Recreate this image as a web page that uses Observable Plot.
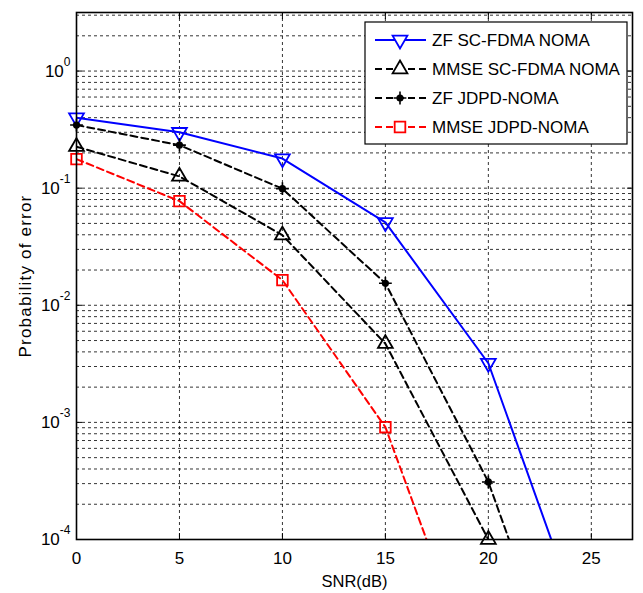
<!DOCTYPE html>
<html>
<head>
<meta charset="utf-8">
<script src="https://cdn.jsdelivr.net/npm/d3@7"></script>
<script src="https://cdn.jsdelivr.net/npm/@observablehq/plot@0.6"></script>
<style>
  html, body { margin: 0; padding: 0; background: white; }
  svg { display: block; }
</style>
</head>
<body>
<div id="chart"></div>
<script>
// ---- data ----
const snr = [0, 5, 10, 15, 20, 25];
const seriesNames = ["ZF SC-FDMA NOMA", "MMSE SC-FDMA NOMA", "ZF JDPD-NOMA", "MMSE JDPD-NOMA"];
const zfScfdma   = [0.40, 0.30, 0.179, 0.051, 0.0032, 1.1e-5];
const mmseScfdma = [0.226, 0.126, 0.0397, 0.0047, 1.0e-4, null];
const zfJdpd     = [0.346, 0.233, 0.099, 0.0154, 3.1e-4, 1.1e-6];
const mmseJdpd   = [0.177, 0.0775, 0.0164, 9.1e-4, 3.6e-6, null];

const xTicks = [0, 5, 10, 15, 20, 25];
const xGridTicks = [5, 10, 15, 20, 25];
const yDecades = [1e-4, 1e-3, 1e-2, 1e-1, 1e0];
const yDecadeLabels = ["10^-4", "10^-3", "10^-2", "10^-1", "10^0"];
const yMinorMult = [2, 3, 4, 5, 6, 7, 8, 9];

const yGridTicks = yDecades.flatMap(d => [d, ...yMinorMult.map(m => m * d)]).filter(v => v <= 3.1);

const seriesValues = [zfScfdma, mmseScfdma, zfJdpd, mmseJdpd];
const rows = seriesValues.flatMap((vals, i) =>
  snr.map((s, j) => ({snr: s, p: vals[j], series: seriesNames[i]})).filter(d => d.p != null));

const styles = {
  "ZF SC-FDMA NOMA":   {stroke: "#0000ff", dash: null,  symbol: "triangle", rotate: 180, r: 5.5},
  "MMSE SC-FDMA NOMA": {stroke: "#000000", dash: "7,4", symbol: "triangle", rotate: 0,   r: 5.5},
  "ZF JDPD-NOMA":      {stroke: "#000000", dash: "7,4", symbol: "circle",   rotate: 0,   r: 3.5},
  "MMSE JDPD-NOMA":    {stroke: "#ff0000", dash: "7,4", symbol: "square",   rotate: 0,   r: 6.0}
};

const font = "'Liberation Sans', Arial, Helvetica, sans-serif";

const lineMarks = seriesNames.map(name => Plot.line(rows.filter(d => d.series === name), {
  x: "snr", y: "p", stroke: styles[name].stroke, strokeWidth: 2,
  strokeDasharray: styles[name].dash, clip: true
}));

const dotMarks = seriesNames.flatMap(name => {
  const st = styles[name];
  const pts = rows.filter(d => d.series === name && d.p >= 1e-4 * 0.999);
  if (name === "ZF JDPD-NOMA") {
    return [
      Plot.dot(pts, {x: "snr", y: "p", symbol: "circle", r: 3.6, fill: "black", stroke: "none"}),
      Plot.dot(pts, {x: "snr", y: "p", symbol: "plus", r: 4.2, stroke: "black", strokeWidth: 1.6})
    ];
  }
  return [Plot.dot(pts, {x: "snr", y: "p", symbol: st.symbol, rotate: st.rotate, r: st.r,
    stroke: st.stroke, fill: "none", strokeWidth: 1.8})];
});

const chart = Plot.plot({
  width: 643,
  height: 593,
  marginTop: 12,
  marginRight: 11,
  marginBottom: 54,
  marginLeft: 76,
  style: {fontFamily: font, fontSize: "17px", background: "white", color: "black"},
  x: {domain: [0, 27], axis: null},
  y: {type: "log", domain: [1e-4, Math.pow(10, 0.5)], axis: null},
  marks: [
    Plot.gridY(yGridTicks, {stroke: "black", strokeOpacity: 1, strokeWidth: 0.8, strokeDasharray: "3,3"}),
    Plot.gridX(xGridTicks, {stroke: "black", strokeOpacity: 1, strokeWidth: 0.8, strokeDasharray: "3,3"}),
    Plot.axisY(yDecades, {anchor: "left", tickSize: -6, tickFormat: () => "", label: null}),
    Plot.axisY(yDecades, {anchor: "right", tickSize: -6, tickFormat: () => "", label: null}),
    Plot.axisX(xTicks, {anchor: "bottom", tickSize: -6, tickFormat: () => "", label: null}),
    Plot.axisX(xTicks, {anchor: "top", tickSize: -6, tickFormat: () => "", label: null}),
    ...lineMarks,
    ...dotMarks,
    Plot.frame({stroke: "black", strokeWidth: 1.6}),
    Plot.text(xTicks, {x: d => d, frameAnchor: "bottom", dy: 19, text: d => String(d),
      fontSize: 17, fill: "black", textAnchor: "middle", lineAnchor: "middle"}),
    Plot.text(yDecades, {y: d => d, frameAnchor: "left", dx: -6, textAnchor: "end", lineAnchor: "middle",
      text: (d, i) => yDecadeLabels[i], fontSize: 17, fill: "black"}),
    Plot.text(["SNR(dB)"], {frameAnchor: "bottom", dy: 42, text: d => d, fontSize: 16.5, fill: "black",
      textAnchor: "middle", lineAnchor: "middle"}),
    Plot.text(["Probability of error"], {frameAnchor: "left", dx: -51, rotate: -90, text: d => d,
      fontSize: 17, fill: "black", textAnchor: "middle", lineAnchor: "middle"})
  ]
});

document.getElementById("chart").appendChild(chart);
const svg = d3.select(chart);

// y label letter spacing to match reference length
svg.selectAll("text").filter(function() { return this.textContent === "Probability of error"; })
  .attr("letter-spacing", "1.2px");

// superscript exponents on y tick labels
svg.selectAll("text").filter(function() { return /^10\^/.test(this.textContent); }).each(function() {
  const t = d3.select(this);
  const [base, exp] = this.textContent.split("^");
  t.text(null);
  t.append("tspan").text(base);
  t.append("tspan").attr("font-size", 12).attr("dy", -11).text(exp);
});

// legend
const leg = svg.append("g").attr("font-family", font).attr("font-size", 17).attr("text-anchor", "start");
leg.append("rect").attr("x", 365).attr("y", 22).attr("width", 262).attr("height", 122)
  .attr("fill", "white").attr("stroke", "black").attr("stroke-width", 1.2);
const symMap = {triangle: d3.symbolTriangle, circle: d3.symbolCircle, square: d3.symbolSquare};
seriesNames.forEach((name, i) => {
  const st = styles[name];
  const y = 40 + i * 29;
  leg.append("line").attr("x1", 375).attr("x2", 426).attr("y1", y).attr("y2", y)
    .attr("stroke", st.stroke).attr("stroke-width", 2).attr("stroke-dasharray", st.dash);
  if (name === "ZF JDPD-NOMA") {
    leg.append("path").attr("transform", `translate(400,${y})`)
      .attr("d", d3.symbol(d3.symbolCircle, Math.PI * 3.6 * 3.6)()).attr("fill", "black");
    leg.append("path").attr("transform", `translate(400,${y})`)
      .attr("d", d3.symbol(d3.symbolPlus, Math.PI * 4.2 * 4.2)()).attr("fill", "none")
      .attr("stroke", "black").attr("stroke-width", 1.6);
  } else {
    leg.append("path").attr("transform", `translate(400,${y}) rotate(${st.rotate})`)
      .attr("d", d3.symbol(symMap[st.symbol], Math.PI * st.r * st.r)())
      .attr("fill", "white").attr("stroke", st.stroke).attr("stroke-width", 1.8);
  }
  leg.append("text").attr("x", 432).attr("y", y).attr("dy", "0.35em").attr("fill", "black").text(name);
});
</script>
</body>
</html>
